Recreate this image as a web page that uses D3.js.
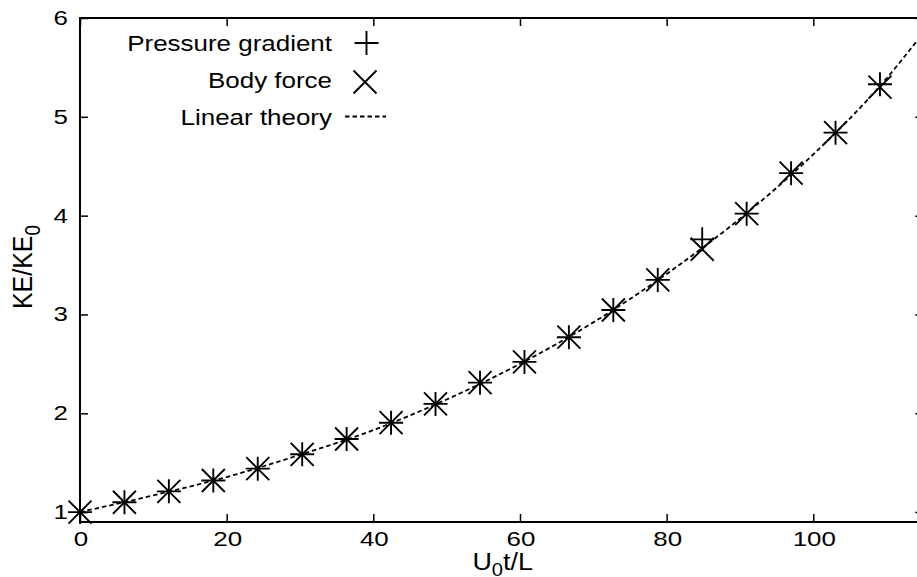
<!DOCTYPE html>
<html>
<head>
<meta charset="utf-8">
<script src="https://cdn.jsdelivr.net/npm/d3@7"></script>
<style>
  html, body { margin: 0; padding: 0; background: #fff; }
  svg { display: block; }
  text { font-family: "Liberation Sans", Arial, Helvetica, sans-serif; fill: #000; }
</style>
</head>
<body>
<svg id="chart" width="917" height="577"></svg>
<script>
// ---- data ----
const timeValues = [0, 6.06, 12.12, 18.18, 24.24, 30.30, 36.36, 42.42, 48.48, 54.55, 60.61, 66.67, 72.73, 78.79, 84.85, 90.91, 96.97, 103.03, 109.09];
const pressureGradient = [1.00, 1.10, 1.21, 1.32, 1.44, 1.585, 1.74, 1.905, 2.095, 2.31, 2.52, 2.77, 3.045, 3.35, 3.76, 4.02, 4.43, 4.84, 5.33];
const bodyForce = [1.00, 1.10, 1.21, 1.32, 1.44, 1.585, 1.74, 1.905, 2.095, 2.31, 2.52, 2.77, 3.045, 3.35, 3.66, 4.02, 4.43, 4.84, 5.30];
const theoryTime = [0, 10, 20, 30, 40, 50, 60, 70, 80, 90, 100, 110, 115];
const theoryValues = [1.00, 1.17, 1.355, 1.58, 1.83, 2.14, 2.50, 2.92, 3.41, 3.97, 4.62, 5.39, 5.85];
const xTicks = [0, 20, 40, 60, 80, 100];
const yTicks = [1, 2, 3, 4, 5, 6];
const legendLabels = ["Pressure gradient", "Body force", "Linear theory"];

// ---- layout ----
const svg = d3.select("#chart");
const pLeft = 80, pRight = 923.3, pTop = 18, pBottom = 522;
const x = d3.scaleLinear().domain([0, 115]).range([pLeft, pRight]);
const y = d3.scaleLinear().domain([0.9, 6]).range([pBottom, pTop]);

const tickFont = 19.5, tickSX = 1.33;

function stretchedText(g, tx, ty, str, size, sx, anchor) {
  return g.append("text")
    .attr("transform", `translate(${tx},${ty}) scale(${sx},1)`)
    .attr("text-anchor", anchor)
    .attr("font-size", size)
    .text(str);
}

// clip
svg.append("defs").append("clipPath").attr("id", "plotclip")
  .append("rect").attr("x", pLeft).attr("y", pTop).attr("width", pRight - pLeft).attr("height", pBottom - pTop);

// axes using d3 axis generators (ticks inward, labels drawn separately for stretch)
const axG = svg.append("g");
const mkAxis = (gen, tr) => {
  const g = axG.append("g").attr("transform", tr).call(gen);
  g.select(".domain").remove();
  g.selectAll(".tick text").remove();
  g.selectAll(".tick line").attr("stroke", "#000").attr("stroke-width", 1.5);
  return g;
};
mkAxis(d3.axisBottom(x).tickValues(xTicks).tickSize(-8), `translate(0,${pBottom})`);
mkAxis(d3.axisTop(x).tickValues(xTicks).tickSize(-8), `translate(0,${pTop})`);
mkAxis(d3.axisLeft(y).tickValues(yTicks).tickSize(-8), `translate(${pLeft},0)`);
mkAxis(d3.axisRight(y).tickValues(yTicks).tickSize(-8), `translate(${pRight},0)`);

// frame
svg.append("rect")
  .attr("x", pLeft).attr("y", pTop).attr("width", pRight - pLeft).attr("height", pBottom - pTop)
  .attr("fill", "none").attr("stroke", "#000").attr("stroke-width", 2);

// tick labels
const lab = svg.append("g");
xTicks.forEach(v => stretchedText(lab, x(v) + 1, 546, String(v), tickFont, tickSX, "middle"));
yTicks.forEach(v => stretchedText(lab, 68, y(v) + 7, String(v), tickFont, tickSX, "end"));

// axis titles
const xt = svg.append("text")
  .attr("transform", `translate(${(pLeft + pRight) / 2 + 1},570) scale(1.12,1)`)
  .attr("text-anchor", "middle").attr("font-size", 24);
xt.append("tspan").text("U");
xt.append("tspan").attr("font-size", 18).attr("dy", 6).text("0");
xt.append("tspan").attr("dy", -6).text("t/L");

const yt = svg.append("text")
  .attr("transform", `translate(32,${(pTop + pBottom) / 2 - 3}) rotate(-90) scale(1,1.12)`)
  .attr("text-anchor", "middle").attr("font-size", 25);
yt.append("tspan").text("KE/KE");
yt.append("tspan").attr("font-size", 19).attr("dy", 7).text("0");

// theory line
const plot = svg.append("g").attr("clip-path", "url(#plotclip)");
const theory = d3.zip(theoryTime, theoryValues);
plot.append("path")
  .datum(theory)
  .attr("d", d3.line().x(d => x(d[0])).y(d => y(d[1])).curve(d3.curveMonotoneX))
  .attr("fill", "none").attr("stroke", "#000").attr("stroke-width", 1.8)
  .attr("stroke-dasharray", "4.5,3");

// markers
const plusPath = "M-12,0H12M0,-12V12";
const crossPath = "M-11.5,-11.5L11.5,11.5M-11.5,11.5L11.5,-11.5";
const mk = svg.append("g").attr("fill", "none").attr("stroke", "#000").attr("stroke-width", 1.9);
mk.selectAll(".pg").data(d3.zip(timeValues, pressureGradient)).join("path")
  .attr("class", "pg").attr("d", plusPath)
  .attr("transform", d => `translate(${x(d[0])},${y(d[1])})`);
mk.selectAll(".bf").data(d3.zip(timeValues, bodyForce)).join("path")
  .attr("class", "bf").attr("d", crossPath)
  .attr("transform", d => `translate(${x(d[0])},${y(d[1])})`);

// legend
const lg = svg.append("g");
const rows = [43, 80, 116.5];
legendLabels.forEach((t, i) => stretchedText(lg, 332, rows[i] + 8, t, 22, 1.18, "end"));
lg.append("path").attr("d", plusPath).attr("transform", `translate(366.5,${rows[0]})`)
  .attr("fill", "none").attr("stroke", "#000").attr("stroke-width", 1.9);
lg.append("path").attr("d", crossPath).attr("transform", `translate(365,${rows[1] + 2})`)
  .attr("fill", "none").attr("stroke", "#000").attr("stroke-width", 1.9);
lg.append("line").attr("x1", 345).attr("x2", 386).attr("y1", rows[2]).attr("y2", rows[2])
  .attr("stroke", "#000").attr("stroke-width", 1.8).attr("stroke-dasharray", "4.5,3");
</script>
</body>
</html>
